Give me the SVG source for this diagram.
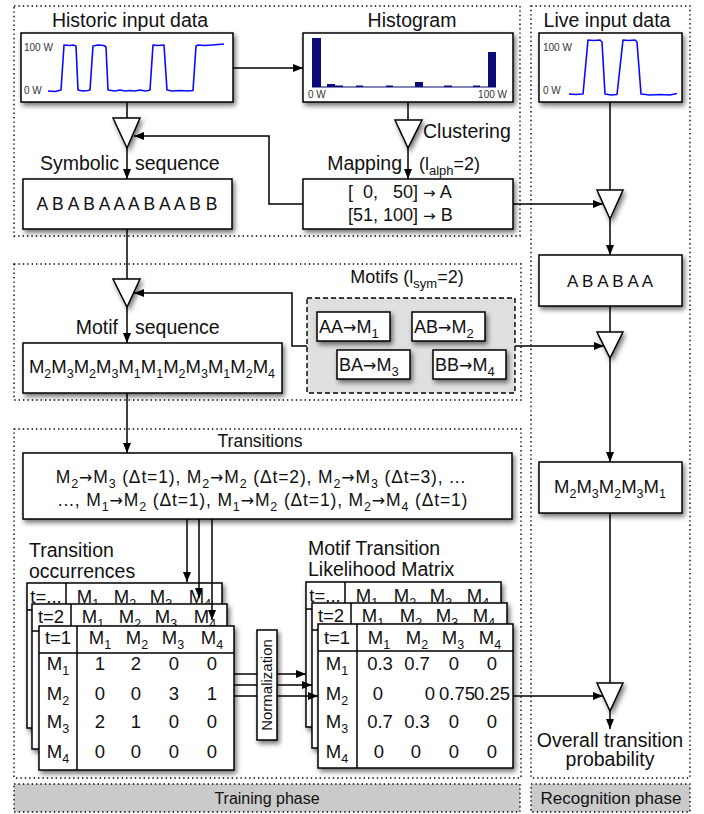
<svg xmlns="http://www.w3.org/2000/svg" width="704" height="814" viewBox="0 0 704 814">
<defs>
<filter id="sh" x="-20%" y="-20%" width="150%" height="160%"><feDropShadow dx="2" dy="3" stdDeviation="2.5" flood-color="#000" flood-opacity="0.55"/></filter>
<marker id="ah" viewBox="0 0 10 8" refX="10" refY="4" markerWidth="10" markerHeight="8" markerUnits="userSpaceOnUse" orient="auto"><path d="M0,0 L10,4 L0,8 z" fill="#000"/></marker>
<style>
.t{font-family:"Liberation Sans",Arial,Helvetica,sans-serif;fill:#111}
.ti{font-size:19.5px}
.a{font-family:"DejaVu Sans",sans-serif}
.box{fill:#fff;stroke:#000;stroke-width:1.5;filter:url(#sh)}
.tri{fill:#fff;stroke:#000;stroke-width:1.5;filter:url(#sh)}
.dot{fill:none;stroke:#000;stroke-width:1.4;stroke-dasharray:1.4 3}
.ph{fill:#cacaca;stroke:#000;stroke-width:1.4;stroke-dasharray:1.4 3}
.ln{fill:none;stroke:#000;stroke-width:1.5}
.ar{marker-end:url(#ah)}
.cl{font-size:10px;fill:#333}
.sig{fill:none;stroke:#0a0aff;stroke-width:1.6;stroke-linejoin:round}
.bar{fill:#0b0b78}
.mx{font-size:18.5px;text-anchor:middle}
.m{fill:none;stroke:#000;stroke-width:1.5}
</style>
</defs>
<rect width="704" height="814" fill="#fff"/>

<g id="phases">
<rect class="dot" x="14" y="6" width="506" height="230"/>
<rect class="dot" x="14" y="264" width="507" height="136"/>
<rect class="dot" x="14" y="429" width="507" height="349"/>
<rect class="dot" x="531" y="6" width="159" height="772"/>
<rect class="ph" x="14" y="784" width="506" height="28"/>
<text class="t" x="267" y="804" font-size="16" text-anchor="middle">Training phase</text>
<rect class="ph" x="531" y="784" width="159" height="28"/>
<text class="t" x="611" y="804" font-size="17" text-anchor="middle">Recognition phase</text>
</g>

<g id="historic">
<text class="t ti" x="130" y="27" text-anchor="middle">Historic input data</text>
<rect class="box" x="21" y="33" width="212" height="69"/>
<text class="t cl" x="24" y="51">100 W</text>
<text class="t cl" x="24" y="94">0 W</text>
<path class="sig" d="M48,91 L55,91.5 L61,90 L64,45 L70,45.5 L73,45 L76,46 L78,90 L83,91 L88,90.5 L90,90 L93,46 L98,45 L104,45.5 L106,47 L108,90 L115,91 L120,90 L125,91 L130,90.5 L135,91 L140,90 L145,91 L148,90.5 L150,90 L153,45 L158,45.5 L164,45 L167,90 L172,91 L180,90.5 L187,91 L193,90.5 L196,46 L198,45 L205,45.5 L212,45 L218,44.5 L224,44"/>
</g>

<g id="histogram">
<text class="t ti" x="412" y="27" text-anchor="middle">Histogram</text>
<rect class="box" x="303" y="33" width="210" height="69"/>
<line x1="312" y1="87" x2="496" y2="87" stroke="#0b0b78" stroke-width="1.2"/>
<rect class="bar" x="312" y="38" width="9" height="49"/>
<rect class="bar" x="327" y="84" width="8" height="3"/>
<rect class="bar" x="335" y="85.5" width="8" height="1.5"/>
<rect class="bar" x="356" y="85.5" width="7" height="1.5"/>
<rect class="bar" x="386" y="85.5" width="7" height="1.5"/>
<rect class="bar" x="415" y="82" width="8" height="5"/>
<rect class="bar" x="444" y="85.5" width="8" height="1.5"/>
<rect class="bar" x="473" y="85.5" width="7" height="1.5"/>
<rect class="bar" x="488" y="52" width="8" height="35"/>
<text class="t cl" x="308" y="98">0 W</text>
<text class="t cl" x="507" y="98" text-anchor="end">100 W</text>
</g>

<g id="live">
<text class="t ti" x="607" y="27" text-anchor="middle">Live input data</text>
<rect class="box" x="539" y="33" width="143" height="69"/>
<text class="t cl" x="543" y="51">100 W</text>
<text class="t cl" x="543" y="94">0 W</text>
<path class="sig" d="M569,94 L576,94.5 L583,94 L588,40 L594,40.5 L600,40 L602,42 L605,94 L611,95 L617,94.5 L623,40 L629,40.5 L635,40 L637,42 L641,94 L650,95 L660,94.5 L670,95 L677,93.5"/>
</g>

<g id="tri1"><polygon class="tri" points="113,118 140,118 127,148"/></g>
<g id="tri2"><polygon class="tri" points="395,120 422,120 408,148"/></g>
<g id="tri3"><polygon class="tri" points="597,190 623,190 610,219"/></g>
<g id="tri4"><polygon class="tri" points="597,332 623,332 610,358"/></g>
<g id="tri5"><polygon class="tri" points="113,279 140,279 127,307"/></g>
<g id="tri6"><polygon class="tri" points="597,683 623,683 610,711"/></g>

<g id="labels">
<text class="t ti" x="119" y="170" text-anchor="end">Symbolic</text>
<text class="t ti" x="135" y="170">sequence</text>
<text class="t ti" x="423" y="138">Clustering</text>
<text class="t ti" x="402" y="170" text-anchor="end">Mapping</text>
<text class="t" x="419" y="170" font-size="18">(l<tspan font-size="13" dy="5">alph</tspan><tspan dy="-5">=2)</tspan></text>
<text class="t ti" x="118" y="334" text-anchor="end">Motif</text>
<text class="t ti" x="135" y="334">sequence</text>
<text class="t" x="407" y="283" font-size="18" text-anchor="middle">Motifs (l<tspan font-size="13" dy="5">sym</tspan><tspan dy="-5">=2)</tspan></text>
<text class="t" x="260" y="447" font-size="17.5" text-anchor="middle">Transitions</text>
<text class="t ti" x="29" y="557">Transition</text>
<text class="t ti" x="29" y="578">occurrences</text>
<text class="t ti" x="308" y="555">Motif Transition</text>
<text class="t ti" x="308" y="576">Likelihood Matrix</text>
<text class="t ti" x="610" y="747" text-anchor="middle">Overall transition</text>
<text class="t ti" x="610" y="766" text-anchor="middle">probability</text>
</g>

<g id="symbolic">
<rect class="box" x="23" y="179" width="209" height="50"/>
<text class="t" x="127" y="210" font-size="17.5" text-anchor="middle">A B A B A A A B A A B B</text>
</g>

<g id="mapping">
<rect class="box" x="303" y="179" width="210" height="50"/>
<text class="t" x="348" y="198" font-size="18" xml:space="preserve">[  0,   50] <tspan class="a" font-size="15">→</tspan> A</text>
<text class="t" x="348" y="221" font-size="18">[51, 100] <tspan class="a" font-size="15">→</tspan> B</text>
</g>

<g id="livesym">
<rect class="box" x="539" y="255" width="143" height="51"/>
<text class="t" x="610" y="287" font-size="17" text-anchor="middle">A B A B A A</text>
</g>

<g id="motifs">
<rect x="307" y="298" width="208" height="95" fill="#e0e0e0" stroke="#000" stroke-width="1.4" stroke-dasharray="5 3"/>
<rect class="box" x="317" y="312" width="73" height="29"/>
<text class="t" x="319" y="333" font-size="18">AA<tspan class="a" font-size="16">→</tspan>M<tspan font-size="13" dy="5">1</tspan></text>
<rect class="box" x="412" y="312" width="73" height="29"/>
<text class="t" x="414" y="333" font-size="18">AB<tspan class="a" font-size="16">→</tspan>M<tspan font-size="13" dy="5">2</tspan></text>
<rect class="box" x="337" y="350" width="73" height="29"/>
<text class="t" x="339" y="371" font-size="18">BA<tspan class="a" font-size="16">→</tspan>M<tspan font-size="13" dy="5">3</tspan></text>
<rect class="box" x="433" y="350" width="73" height="29"/>
<text class="t" x="435" y="371" font-size="18">BB<tspan class="a" font-size="16">→</tspan>M<tspan font-size="13" dy="5">4</tspan></text>
</g>

<g id="motifseq">
<rect class="box" x="23" y="343" width="259" height="50"/>
<text class="t" x="152" y="373" font-size="18.5" text-anchor="middle">M<tspan font-size="12.5" dy="5">2</tspan><tspan dy="-5">M</tspan><tspan font-size="12.5" dy="5">3</tspan><tspan dy="-5">M</tspan><tspan font-size="12.5" dy="5">2</tspan><tspan dy="-5">M</tspan><tspan font-size="12.5" dy="5">3</tspan><tspan dy="-5">M</tspan><tspan font-size="12.5" dy="5">1</tspan><tspan dy="-5">M</tspan><tspan font-size="12.5" dy="5">1</tspan><tspan dy="-5">M</tspan><tspan font-size="12.5" dy="5">2</tspan><tspan dy="-5">M</tspan><tspan font-size="12.5" dy="5">3</tspan><tspan dy="-5">M</tspan><tspan font-size="12.5" dy="5">1</tspan><tspan dy="-5">M</tspan><tspan font-size="12.5" dy="5">2</tspan><tspan dy="-5">M</tspan><tspan font-size="12.5" dy="5">4</tspan></text>
</g>

<g id="livemotif">
<rect class="box" x="539" y="462" width="143" height="51"/>
<text class="t" x="610" y="493" font-size="18.5" text-anchor="middle">M<tspan font-size="12.5" dy="5">2</tspan><tspan dy="-5">M</tspan><tspan font-size="12.5" dy="5">3</tspan><tspan dy="-5">M</tspan><tspan font-size="12.5" dy="5">2</tspan><tspan dy="-5">M</tspan><tspan font-size="12.5" dy="5">3</tspan><tspan dy="-5">M</tspan><tspan font-size="12.5" dy="5">1</tspan></text>
</g>

<g id="transitions">
<rect class="box" x="23" y="453" width="489" height="66"/>
<text class="t" x="261" y="483" font-size="17.5" text-anchor="middle" letter-spacing="0.85">M<tspan font-size="12.5" dy="5">2</tspan><tspan class="a" dy="-5" font-size="16">→</tspan>M<tspan font-size="12.5" dy="5">3</tspan><tspan dy="-5"> (Δt=1), M</tspan><tspan font-size="12.5" dy="5">2</tspan><tspan class="a" dy="-5" font-size="16">→</tspan>M<tspan font-size="12.5" dy="5">2</tspan><tspan dy="-5"> (Δt=2), M</tspan><tspan font-size="12.5" dy="5">2</tspan><tspan class="a" dy="-5" font-size="16">→</tspan>M<tspan font-size="12.5" dy="5">3</tspan><tspan dy="-5"> (Δt=3), ...</tspan></text>
<text class="t" x="263" y="506" font-size="17.5" text-anchor="middle" letter-spacing="0.85">..., M<tspan font-size="12.5" dy="5">1</tspan><tspan class="a" dy="-5" font-size="16">→</tspan>M<tspan font-size="12.5" dy="5">2</tspan><tspan dy="-5"> (Δt=1), M</tspan><tspan font-size="12.5" dy="5">1</tspan><tspan class="a" dy="-5" font-size="16">→</tspan>M<tspan font-size="12.5" dy="5">2</tspan><tspan dy="-5"> (Δt=1), M</tspan><tspan font-size="12.5" dy="5">2</tspan><tspan class="a" dy="-5" font-size="16">→</tspan>M<tspan font-size="12.5" dy="5">4</tspan><tspan dy="-5"> (Δt=1)</tspan></text>
</g>

<g id="occ-back">
<rect class="box" x="27" y="583" width="195" height="145"/>
<line class="m" x1="66" y1="583" x2="66" y2="728"/><line class="m" x1="27" y1="610" x2="222" y2="610"/>
<text class="t mx" x="46" y="603">t=...</text>
<text class="t mx" x="88" y="603">M<tspan font-size="12.5" dy="5">1</tspan></text><text class="t mx" x="125" y="603">M<tspan font-size="12.5" dy="5">2</tspan></text><text class="t mx" x="161" y="603">M<tspan font-size="12.5" dy="5">3</tspan></text><text class="t mx" x="200" y="603">M<tspan font-size="12.5" dy="5">4</tspan></text>
</g>
<g id="occ-mid">
<rect class="box" x="32" y="604" width="195" height="145"/>
<line class="m" x1="71" y1="604" x2="71" y2="749"/><line class="m" x1="32" y1="631" x2="227" y2="631"/>
<text class="t mx" x="51" y="623">t=2</text>
<text class="t mx" x="93" y="623">M<tspan font-size="12.5" dy="5">1</tspan></text><text class="t mx" x="130" y="623">M<tspan font-size="12.5" dy="5">2</tspan></text><text class="t mx" x="166" y="623">M<tspan font-size="12.5" dy="5">3</tspan></text><text class="t mx" x="205" y="623">M<tspan font-size="12.5" dy="5">4</tspan></text>
</g>
<g id="occ-front">
<rect class="box" x="39" y="626" width="195" height="144"/>
<line class="m" x1="77" y1="626" x2="77" y2="770"/><line class="m" x1="39" y1="653" x2="234" y2="653"/>
<text class="t mx" x="58" y="644">t=1</text>
<text class="t mx" x="100" y="644">M<tspan font-size="12.5" dy="5">1</tspan></text><text class="t mx" x="137" y="644">M<tspan font-size="12.5" dy="5">2</tspan></text><text class="t mx" x="173" y="644">M<tspan font-size="12.5" dy="5">3</tspan></text><text class="t mx" x="212" y="644">M<tspan font-size="12.5" dy="5">4</tspan></text>
<text class="t mx" x="58" y="670">M<tspan font-size="12.5" dy="5">1</tspan></text><text class="t mx" x="58" y="700">M<tspan font-size="12.5" dy="5">2</tspan></text><text class="t mx" x="58" y="728">M<tspan font-size="12.5" dy="5">3</tspan></text><text class="t mx" x="58" y="758">M<tspan font-size="12.5" dy="5">4</tspan></text>
<text class="t mx" x="100" y="670">1</text><text class="t mx" x="136" y="670">2</text><text class="t mx" x="174" y="670">0</text><text class="t mx" x="212" y="670">0</text>
<text class="t mx" x="100" y="700">0</text><text class="t mx" x="136" y="700">0</text><text class="t mx" x="174" y="700">3</text><text class="t mx" x="212" y="700">1</text>
<text class="t mx" x="100" y="728">2</text><text class="t mx" x="136" y="728">1</text><text class="t mx" x="174" y="728">0</text><text class="t mx" x="212" y="728">0</text>
<text class="t mx" x="100" y="758">0</text><text class="t mx" x="136" y="758">0</text><text class="t mx" x="174" y="758">0</text><text class="t mx" x="212" y="758">0</text>
</g>

<g id="lik-back">
<rect class="box" x="306" y="582" width="195" height="145"/>
<line class="m" x1="345" y1="582" x2="345" y2="727"/><line class="m" x1="306" y1="609" x2="501" y2="609"/>
<text class="t mx" x="325" y="602">t=...</text>
<text class="t mx" x="367" y="602">M<tspan font-size="12.5" dy="5">1</tspan></text><text class="t mx" x="405" y="602">M<tspan font-size="12.5" dy="5">2</tspan></text><text class="t mx" x="441" y="602">M<tspan font-size="12.5" dy="5">3</tspan></text><text class="t mx" x="478" y="602">M<tspan font-size="12.5" dy="5">4</tspan></text>
</g>
<g id="lik-mid">
<rect class="box" x="312" y="603" width="195" height="145"/>
<line class="m" x1="351" y1="603" x2="351" y2="748"/><line class="m" x1="312" y1="630" x2="507" y2="630"/>
<text class="t mx" x="331" y="622">t=2</text>
<text class="t mx" x="373" y="622">M<tspan font-size="12.5" dy="5">1</tspan></text><text class="t mx" x="411" y="622">M<tspan font-size="12.5" dy="5">2</tspan></text><text class="t mx" x="447" y="622">M<tspan font-size="12.5" dy="5">3</tspan></text><text class="t mx" x="484" y="622">M<tspan font-size="12.5" dy="5">4</tspan></text>
</g>
<g id="lik-front">
<rect class="box" x="318" y="624" width="195" height="144"/>
<line class="m" x1="357" y1="624" x2="357" y2="768"/><line class="m" x1="318" y1="651" x2="513" y2="651"/>
<text class="t mx" x="337" y="644">t=1</text>
<text class="t mx" x="379" y="644">M<tspan font-size="12.5" dy="5">1</tspan></text><text class="t mx" x="417" y="644">M<tspan font-size="12.5" dy="5">2</tspan></text><text class="t mx" x="453" y="644">M<tspan font-size="12.5" dy="5">3</tspan></text><text class="t mx" x="490" y="644">M<tspan font-size="12.5" dy="5">4</tspan></text>
<text class="t mx" x="337" y="670">M<tspan font-size="12.5" dy="5">1</tspan></text><text class="t mx" x="337" y="700">M<tspan font-size="12.5" dy="5">2</tspan></text><text class="t mx" x="337" y="728">M<tspan font-size="12.5" dy="5">3</tspan></text><text class="t mx" x="337" y="758">M<tspan font-size="12.5" dy="5">4</tspan></text>
<text class="t mx" x="380" y="670">0.3</text><text class="t mx" x="417" y="670">0.7</text><text class="t mx" x="454" y="670">0</text><text class="t mx" x="492" y="670">0</text>
<text class="t mx" x="378" y="700">0</text><text class="t mx" x="430" y="700">0</text><text class="t mx" x="457" y="700" font-size="17">0.75</text><text class="t mx" x="492" y="700" font-size="17">0.25</text>
<text class="t mx" x="380" y="728">0.7</text><text class="t mx" x="417" y="728">0.3</text><text class="t mx" x="454" y="728">0</text><text class="t mx" x="492" y="728">0</text>
<text class="t mx" x="379" y="758">0</text><text class="t mx" x="416" y="758">0</text><text class="t mx" x="454" y="758">0</text><text class="t mx" x="492" y="758">0</text>
</g>

<g id="connectors">
<path class="ln ar" d="M233,68 H303"/>
<path class="ln" d="M127,102 V118"/>
<path class="ln ar" d="M127,148 V179"/>
<path class="ln" d="M408,102 V120"/>
<path class="ln ar" d="M408,148 V179"/>
<path class="ln ar" d="M303,204 H269 V136 H134"/>
<path class="ln ar" d="M513,204 H603"/>
<path class="ln" d="M610,102 V190"/>
<path class="ln ar" d="M610,219 V255"/>
<path class="ln" d="M127,229 V279"/>
<path class="ln ar" d="M127,307 V343"/>
<path class="ln ar" d="M307,346 H292 V293 H134"/>
<path class="ln ar" d="M515,346 H604"/>
<path class="ln" d="M610,306 V332"/>
<path class="ln ar" d="M610,358 V462"/>
<path class="ln ar" d="M127,393 V453"/>
<path class="ln ar" d="M187,519 V582"/>
<path class="ln ar" d="M199,519 V598"/>
<path class="ln ar" d="M212,519 V620"/>
<path class="ln ar" d="M234,674 H306"/>
<path class="ln ar" d="M234,685 H312"/>
<path class="ln ar" d="M234,696 H318"/>
<path class="ln ar" d="M513,696 H603"/>
<path class="ln" d="M610,513 V683"/>
<path class="ln ar" d="M610,711 V729"/>
</g>

<g id="normalization">
<rect class="box" x="257" y="630" width="20" height="110"/>
<text class="t" x="0" y="0" font-size="15" text-anchor="middle" transform="translate(272,685) rotate(-90)">Normalization</text>
</g>
</svg>
